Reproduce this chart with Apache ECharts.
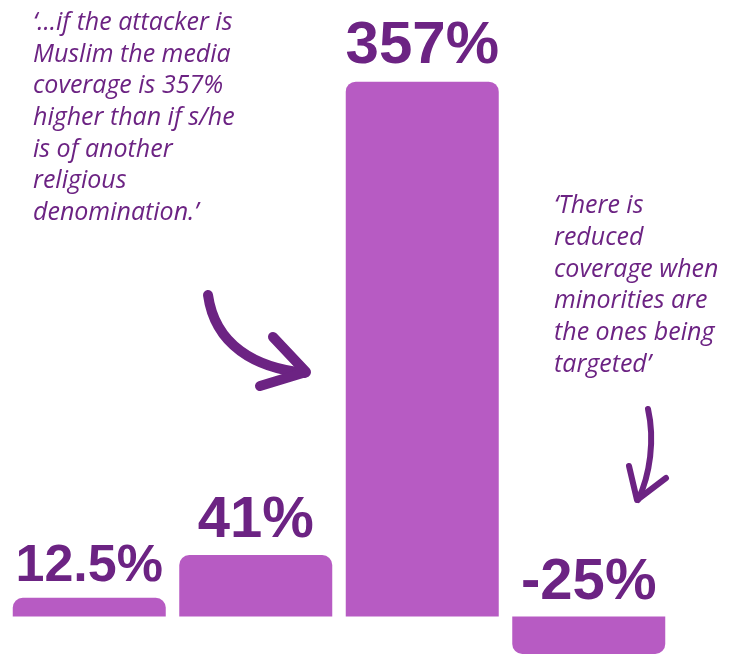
<!DOCTYPE html>
<html>
<head>
<meta charset="utf-8">
<script src="https://cdn.jsdelivr.net/npm/echarts@6/dist/echarts.min.js"></script>
<style>
html,body{margin:0;padding:0;background:#fff;}
#chart{width:736px;height:654px;}
</style>
</head>
<body>
<div id="chart"></div>
<script>
var categories = ['A', 'B', 'C', 'D'];
var values = [12.5, 41, 357, -25];
var labels = ['12.5%', '41%', '357%', '-25%'];
var labelSizes = [52, 58, 60, 58];
var note1 = "‘...if the attacker is\nMuslim the media\ncoverage is 357%\nhigher than if s/he\nis of another\nreligious\ndenomination.’";
var note2 = "‘There is\nreduced\ncoverage when\nminorities are\nthe ones being\ntargeted’";

var BAR = '#b75bc3';
var DARK = '#6c2383';

var chart = echarts.init(document.getElementById('chart'), null, {renderer: 'canvas'});

var data = values.map(function (v, i) {
  return {
    value: v,
    itemStyle: { borderRadius: v >= 0 ? [10, 10, 0, 0] : [0, 0, 10, 10] },
    label: { fontSize: labelSizes[i] }
  };
});

chart.setOption({
  animation: false,
  grid: { left: 6, right: 64, top: 17.2, height: 640.5, containLabel: false },
  xAxis: {
    type: 'category',
    data: categories,
    show: false
  },
  yAxis: {
    type: 'value',
    min: -25,
    max: 400,
    show: false,
    splitLine: { show: false }
  },
  series: [{
    type: 'bar',
    data: data,
    barWidth: 153,
    itemStyle: { color: BAR },
    label: {
      show: true,
      position: 'top',
      distance: 5,
      color: DARK,
      fontFamily: 'Liberation Sans',
      fontWeight: 'bold',
      formatter: function (p) { return labels[p.dataIndex]; }
    }
  }],
  graphic: [
    {
      type: 'text', left: 33, top: 7,
      style: { text: note1, fill: DARK, font: 'italic 25px "Open Sans"', lineHeight: 31.7 }
    },
    {
      type: 'text', left: 554, top: 190,
      style: { text: note2, fill: DARK, font: 'italic 25px "Open Sans"', lineHeight: 31.8 }
    },
    {
      type: 'bezierCurve',
      shape: { x1: 208, y1: 295, cpx1: 215, cpy1: 345, cpx2: 255, cpy2: 368, x2: 305, y2: 373 },
      style: { stroke: DARK, lineWidth: 10, lineCap: 'round', fill: null }
    },
    {
      type: 'polyline',
      shape: { points: [[273, 337], [306, 372], [260, 386]] },
      style: { stroke: DARK, lineWidth: 10, lineCap: 'round', lineJoin: 'round', fill: null }
    },
    {
      type: 'bezierCurve',
      shape: { x1: 648, y1: 409, cpx1: 655, cpy1: 440, cpx2: 650, cpy2: 475, x2: 638, y2: 500 },
      style: { stroke: DARK, lineWidth: 6, lineCap: 'round', fill: null }
    },
    {
      type: 'polyline',
      shape: { points: [[629, 466], [637, 500], [666, 478]] },
      style: { stroke: DARK, lineWidth: 6, lineCap: 'round', lineJoin: 'round', fill: null }
    }
  ]
});
</script>
</body>
</html>
